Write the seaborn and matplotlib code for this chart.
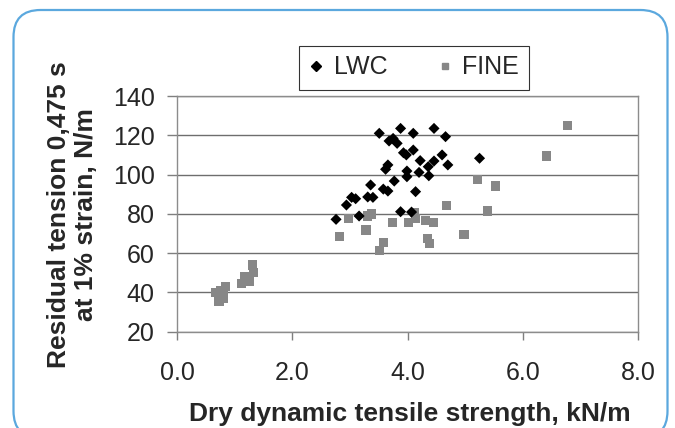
import matplotlib
matplotlib.use("Agg")
import matplotlib.pyplot as plt
from matplotlib.patches import FancyBboxPatch
from matplotlib.transforms import IdentityTransform
from matplotlib.lines import Line2D
import seaborn as sns
import pandas as pd

# ---- data ----
lwc_x = [2.76, 2.94, 3.03, 3.10, 3.16, 3.31, 3.40, 3.36, 3.51, 3.62, 3.66, 3.58, 3.66,
         3.68, 3.75, 3.82, 3.77, 3.88, 3.88, 3.93, 3.98, 3.99, 3.99, 4.10, 4.10, 4.07,
         4.14, 4.22, 4.20, 4.36, 4.37, 4.46, 4.46, 4.60, 4.66, 4.70, 5.25]
lwc_y = [77.2, 84.5, 88.4, 87.7, 78.9, 88.6, 88.4, 94.7, 121.0, 102.7, 104.9, 92.6, 91.6,
         117.1, 118.4, 115.9, 96.7, 123.5, 81.1, 111.1, 110.0, 101.8, 98.9, 121.0, 112.5, 80.9,
         91.3, 107.1, 101.1, 104.0, 99.4, 123.5, 106.9, 110.0, 119.3, 104.9, 108.3]

fine_x = [0.67, 0.73, 0.76, 0.81, 0.84, 0.80, 1.12, 1.18, 1.25, 1.31, 1.33,
          2.82, 2.97, 3.28, 3.30, 3.37, 3.51, 3.58, 3.74, 4.02, 4.12, 4.14, 4.31, 4.45,
          4.35, 4.38, 4.67, 4.98, 5.22, 5.39, 5.53, 6.41, 6.78]
fine_y = [39.9, 35.3, 41.0, 37.0, 42.9, 39.0, 44.6, 48.0, 45.5, 54.0, 50.0,
          68.5, 77.7, 71.8, 78.9, 79.9, 61.2, 65.5, 75.5, 75.5, 80.6, 77.7, 76.5, 75.7,
          67.5, 65.0, 84.2, 69.6, 97.6, 81.4, 94.2, 109.5, 124.9]

series_names = ["LWC", "FINE"]
x_ticks = [0, 2, 4, 6, 8]
x_ticklabels = ["0.0", "2.0", "4.0", "6.0", "8.0"]
y_ticks = [20, 40, 60, 80, 100, 120, 140]
x_label = "Dry dynamic tensile strength, kN/m"
y_label = "Residual tension 0,475 s\nat 1% strain, N/m"

df = pd.concat([
    pd.DataFrame({"x": lwc_x, "y": lwc_y, "series": series_names[0]}),
    pd.DataFrame({"x": fine_x, "y": fine_y, "series": series_names[1]}),
], ignore_index=True)

sns.set_style("white")
plt.rcParams["font.family"] = ["Liberation Sans", "DejaVu Sans"]

W, H = 675, 428
fig = plt.figure(figsize=(W / 100, H / 100), dpi=100)
ax = fig.add_axes([177 / W, 1 - 331.7 / H, (638 - 177) / W, (331.7 - 96) / H])

colors = {"LWC": "#000000", "FINE": "#878787"}
markers = {"LWC": "D", "FINE": "s"}
sizes_s = {"LWC": 32, "FINE": 44}

# draw FINE first then LWC on top
for name in ["FINE", "LWC"]:
    sub = df[df["series"] == name]
    sns.scatterplot(data=sub, x="x", y="y", ax=ax, color=colors[name],
                    marker=markers[name], s=sizes_s[name], edgecolor="none",
                    linewidth=0, legend=False, zorder=3)

ax.set_xlim(0, 8)
ax.set_ylim(20, 140)
ax.set_xticks(x_ticks)
ax.set_xticklabels(x_ticklabels)
ax.set_yticks(y_ticks)
ax.set_xlabel("")
ax.set_ylabel("")

ax.yaxis.grid(True, color="#6e6e6e", linewidth=1.0)
ax.xaxis.grid(False)
ax.set_axisbelow(True)
for sp in ax.spines.values():
    sp.set_visible(True)
    sp.set_color("#8c8c8c")
    sp.set_linewidth(1.0)

ax.tick_params(axis="y", direction="out", length=7, width=1, color="#7f7f7f",
               labelsize=18, pad=9, left=True)
ax.tick_params(axis="x", direction="out", length=6, width=1, color="#7f7f7f",
               labelsize=18, pad=15, bottom=True)

# axis titles
fig.text(410 / W, 1 - 421 / H, x_label, ha="center", va="baseline",
         fontsize=19, fontweight="bold")
fig.text(72.5 / W, 1 - 215 / H, y_label, ha="center", va="center", rotation=90,
         multialignment="center", fontsize=19, fontweight="bold", linespacing=1.2)

# legend
handles = [
    Line2D([], [], linestyle="none", marker="D", color="#000000", markersize=5),
    Line2D([], [], linestyle="none", marker="s", color="#878787", markersize=5),
]
leg = ax.legend(handles, series_names, ncol=2, loc="center",
                bbox_to_anchor=(414 / W, 1 - 67.5 / H), bbox_transform=fig.transFigure,
                fontsize=18, frameon=True, fancybox=False, edgecolor="#000000",
                handlelength=0.6, handletextpad=0.4, columnspacing=2.0,
                borderpad=0.4, borderaxespad=0)
leg.get_frame().set_linewidth(0.8)

# rounded border
border = FancyBboxPatch((13.5, -10), 654, 428, boxstyle="round,pad=0,rounding_size=27",
                        transform=IdentityTransform(), fill=False,
                        edgecolor="#5ba8de", linewidth=1.6)
fig.patches.append(border)

fig.savefig("out.png", dpi=100)
